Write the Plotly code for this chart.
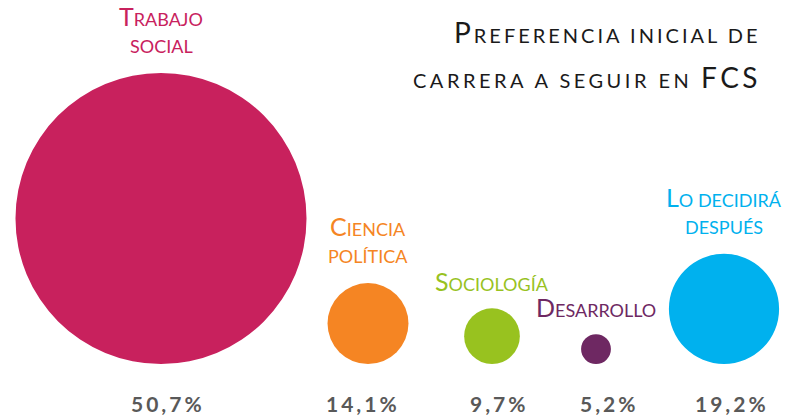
import plotly.graph_objects as go

# ---- data ----
categories = ["Trabajo social", "Ciencia política", "Sociología", "Desarrollo", "Lo decidirá después"]
values = [50.7, 14.1, 9.7, 5.2, 19.2]
title_lines = ["Preferencia inicial de", "carrera a seguir en FCS"]

# ---- layout / style ----
colors = ["#C8215D", "#F58523", "#98C21F", "#6E2862", "#00B1EE"]
x_pos = [161, 368, 492, 596, 724]          # circle centres (px)
pct_x = [168, 363, 499, 609, 732]          # percentage label centres (px)
first_line_words = [1, 1, 1, 1, 2]
W, H = 796, 418
BASE = 364          # bottom line of circles (px)
K = 2.87            # px of radius per percentage point
GAP = 18            # px between label baseline and circle top
LINE = 30           # label line spacing
FONT = "Lato"
LABEL_BIG, LABEL_SMALL = 25, 18
TITLE_BIG, TITLE_SMALL = 28, 20


def small_caps(text, big, small, ls=0):
    sp = f";letter-spacing:{ls}px" if ls else ""
    out = []
    for w in text.split(" "):
        if w.isupper() and len(w) > 1:
            out.append(f"<span style='font-size:{big}px{sp}'>{w}</span>")
        elif w[0].isupper():
            out.append(f"<span style='font-size:{big}px{sp}'>{w[0]}</span>"
                       f"<span style='font-size:{small}px{sp}'>{w[1:].upper()}</span>")
        else:
            out.append(f"<span style='font-size:{small}px{sp}'>{w.upper()}</span>")
    return f"<span style='font-size:{small}px{sp}'> </span>".join(out)


radii = [K * v for v in values]

shapes = []
for x, r, c in zip(x_pos, radii, colors):
    shapes.append(dict(type="circle", xref="x", yref="y",
                       x0=x - r, x1=x + r, y0=BASE - 2 * r, y1=BASE,
                       fillcolor=c, line=dict(width=0), layer="below"))

fig = go.Figure()
# invisible anchor trace so the axes exist
fig.add_trace(go.Scatter(x=x_pos, y=[BASE - r for r in radii], mode="markers",
                         marker=dict(size=1, opacity=0), hoverinfo="skip",
                         showlegend=False))

annotations = []
# category labels
for cat, x, r, c, n in zip(categories, x_pos, radii, colors, first_line_words):
    words = cat.split(" ")
    lines = [" ".join(words[:n]), " ".join(words[n:])]
    lines = [l for l in lines if l]
    last_base = BASE - 2 * r - GAP
    for i, line in enumerate(lines):
        baseline = last_base - LINE * (len(lines) - 1 - i)
        annotations.append(dict(
            x=x, y=baseline - 0.36 * LABEL_BIG, xref="x", yref="y",
            text=small_caps(line, LABEL_BIG, LABEL_SMALL),
            showarrow=False, xanchor="center", yanchor="middle",
            font=dict(family=FONT, size=LABEL_SMALL, color=c),
        ))

# percentages
for v, x in zip(values, pct_x):
    annotations.append(dict(
        x=x, y=411 - 0.36 * 21, xref="x", yref="y",
        text="<span style='letter-spacing:3px'><b>" + f"{v:.1f}".replace(".", ",") + "%</b></span>",
        showarrow=False, xanchor="center", yanchor="middle",
        font=dict(family=FONT, size=21, color="#595959"),
    ))

# title
for i, (line, ls) in enumerate(zip(title_lines, [3, 3.5])):
    baseline = 42 + 45 * i
    annotations.append(dict(
        x=763, y=baseline - 0.36 * TITLE_BIG, xref="x", yref="y",
        text=small_caps(line, TITLE_BIG, TITLE_SMALL, ls=ls),
        showarrow=False, xanchor="right", yanchor="middle",
        font=dict(family=FONT, size=TITLE_SMALL, color="#1A1A1A"),
    ))

fig.update_layout(
    width=W, height=H,
    margin=dict(l=0, r=0, t=0, b=0),
    paper_bgcolor="white", plot_bgcolor="white",
    xaxis=dict(range=[0, W], visible=False, fixedrange=True),
    yaxis=dict(range=[H, 0], visible=False, fixedrange=True),
    shapes=shapes,
    annotations=annotations,
)

fig.write_html("out.html",
               config={"displayModeBar": False},
               post_script="document.body.style.margin='0px';document.body.style.overflow='hidden';")
